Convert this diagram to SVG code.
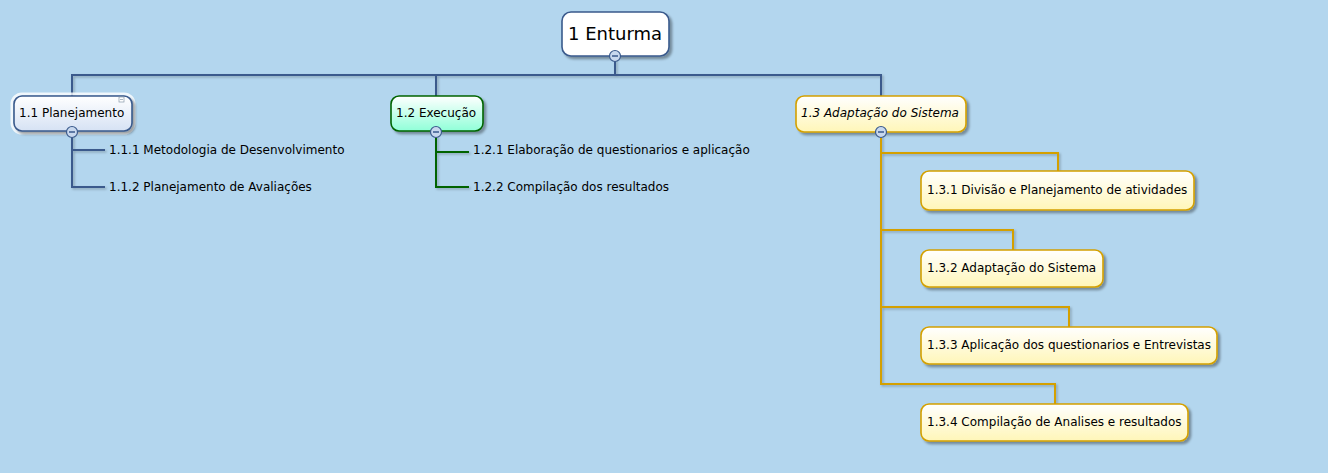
<svg xmlns="http://www.w3.org/2000/svg" width="1328" height="473" viewBox="0 0 1328 473">
<defs>
<style>
text{font-family:"DejaVu Sans",Verdana,sans-serif;font-size:12px;fill:#000}
.root{font-size:18px}
.it{font-style:italic}
.box{stroke-width:1.6}
.blue{stroke:#3a5a8c;fill:none;stroke-width:2}
.green{stroke:#006400;fill:none;stroke-width:2}
.gold{stroke:#d4a000;fill:none;stroke-width:2}
.toggle{fill:#c8d8ee;stroke:#3a5a8c;stroke-width:1.2}
</style>
<filter id="sh" x="-20%" y="-20%" width="140%" height="160%">
<feDropShadow dx="2.5" dy="2.5" stdDeviation="1.2" flood-color="#000" flood-opacity="0.35"/>
</filter>
<filter id="lsh" x="-5%" y="-5%" width="110%" height="110%">
<feDropShadow dx="1.5" dy="1.5" stdDeviation="0.8" flood-color="#000" flood-opacity="0.25"/>
</filter>
<linearGradient id="gBlue" x1="0" y1="0" x2="0" y2="1"><stop offset="0" stop-color="#ffffff"/><stop offset="1" stop-color="#d6e2f4"/></linearGradient>
<linearGradient id="gGreen" x1="0" y1="0" x2="0" y2="1"><stop offset="0" stop-color="#ffffff"/><stop offset="1" stop-color="#90ffd8"/></linearGradient>
<linearGradient id="gGold" x1="0" y1="0" x2="0" y2="1"><stop offset="0" stop-color="#ffffff"/><stop offset="1" stop-color="#fff6b8"/></linearGradient>
<g id="tg"><circle r="5.5" class="toggle"/><line x1="-3" y1="0" x2="3" y2="0" stroke="#3a5a8c" stroke-width="1.5"/></g>
</defs>
<rect width="1328" height="473" fill="#b3d6ee"/>
<g id="connectors" filter="url(#lsh)">
<path class="blue" d="M615 56V75M72 96V75H881V96M436 75V96"/>
<path class="blue" d="M72 132V187H105M72 150H105"/>
<path class="green" d="M436 132V187H469M436 152H469"/>
<path class="gold" d="M881 132V384H1055V404M881 153H1058V171M881 230H1013V250M881 307H1069V327"/>
</g>
<g id="n1">
<rect x="562" y="12" width="107" height="44" rx="9" fill="#fff" stroke="#3a5a8c" class="box" filter="url(#sh)"/>
<text x="568" y="40" class="root">1 Enturma</text>
<use href="#tg" x="615" y="56"/>
</g>
<g id="n1_1">
<rect x="12" y="94" width="122" height="39" rx="10" fill="none" stroke="#ffffff" stroke-opacity="0.8" stroke-width="3"/>
<rect x="14" y="96" width="118" height="35" rx="8" fill="url(#gBlue)" stroke="#3a5a8c" class="box" filter="url(#sh)"/>
<rect x="119" y="97" width="5" height="5" fill="#fff" stroke="#8899aa" stroke-width="0.7"/>
<line x1="120" y1="99.5" x2="123" y2="99.5" stroke="#8899aa" stroke-width="0.7"/>
<text x="19" y="117">1.1 Planejamento</text>
<use href="#tg" x="72" y="132"/>
</g>
<g id="n1_1_1"><text x="109" y="154">1.1.1 Metodologia de Desenvolvimento</text></g>
<g id="n1_1_2"><text x="109" y="191">1.1.2 Planejamento de Avaliações</text></g>
<g id="n1_2">
<rect x="391" y="96" width="92" height="35" rx="8" fill="url(#gGreen)" stroke="#006400" class="box" filter="url(#sh)"/>
<text x="396" y="117">1.2 Execução</text>
<use href="#tg" x="436" y="132"/>
</g>
<g id="n1_2_1"><text x="473" y="154">1.2.1 Elaboração de questionarios e aplicação</text></g>
<g id="n1_2_2"><text x="473" y="191">1.2.2 Compilação dos resultados</text></g>
<g id="n1_3">
<rect x="796" y="96" width="170" height="36" rx="8" fill="url(#gGold)" stroke="#d4a000" class="box" filter="url(#sh)"/>
<text x="801" y="117" class="it">1.3 Adaptação do Sistema</text>
<use href="#tg" x="881" y="132"/>
</g>
<g id="n1_3_1">
<rect x="921" y="171" width="273" height="39" rx="8" fill="url(#gGold)" stroke="#d4a000" class="box" filter="url(#sh)"/>
<text x="927" y="194">1.3.1 Divisão e Planejamento de atividades</text>
</g>
<g id="n1_3_2">
<rect x="921" y="250" width="182" height="37" rx="8" fill="url(#gGold)" stroke="#d4a000" class="box" filter="url(#sh)"/>
<text x="927" y="272">1.3.2 Adaptação do Sistema</text>
</g>
<g id="n1_3_3">
<rect x="921" y="327" width="296" height="37" rx="8" fill="url(#gGold)" stroke="#d4a000" class="box" filter="url(#sh)"/>
<text x="927" y="349">1.3.3 Aplicação dos questionarios e Entrevistas</text>
</g>
<g id="n1_3_4">
<rect x="921" y="404" width="267" height="37" rx="8" fill="url(#gGold)" stroke="#d4a000" class="box" filter="url(#sh)"/>
<text x="927" y="426">1.3.4 Compilação de Analises e resultados</text>
</g>
</svg>
